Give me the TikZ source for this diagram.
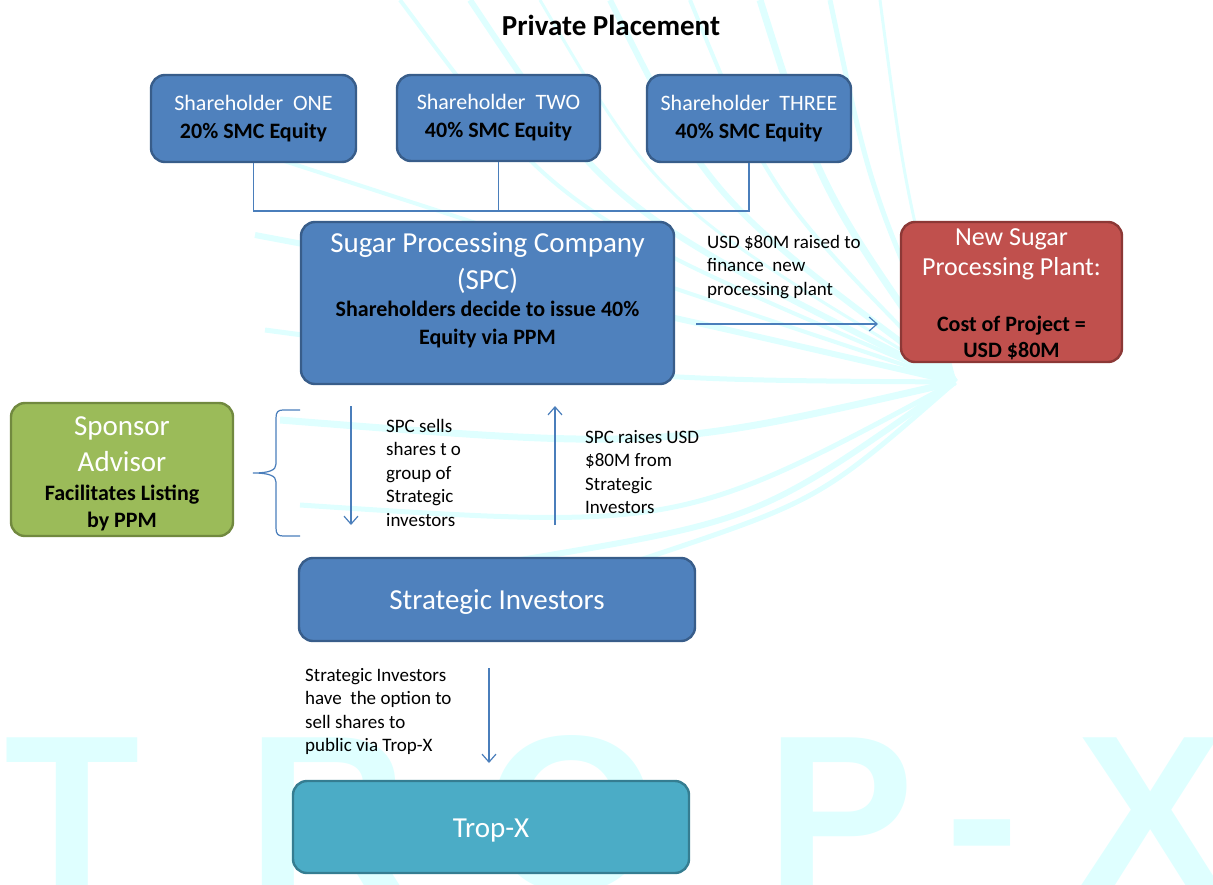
\documentclass[tikz,border=0pt]{standalone}
\usepackage{fontspec}
\setmainfont{Carlito}
\newfontfamily\markfont{Liberation Sans}
\usetikzlibrary{arrows.meta}
\definecolor{boxblue}{HTML}{4F81BD}
\definecolor{boxblueline}{HTML}{385D8A}
\definecolor{plantred}{HTML}{C0504D}
\definecolor{plantredline}{HTML}{8C3836}
\definecolor{sponsorgreen}{HTML}{9BBB59}
\definecolor{sponsorgreenline}{HTML}{71893F}
\definecolor{tropteal}{HTML}{4BACC6}
\definecolor{troptealline}{HTML}{357D91}
\definecolor{flowline}{HTML}{4A7EBB}
\definecolor{markcyan}{HTML}{DFFFFF}
\newcommand{\bigtxt}{\fontsize{29}{34}\selectfont}
\newcommand{\plainbox}{\fontsize{22}{28}\selectfont}
\newcommand{\notetxt}{\fontsize{19}{23.5}\selectfont}
\newcommand{\markletter}[3]{%
  \node[markcyan, anchor=base, font=\markfont\bfseries\fontsize{222}{222}\selectfont] (#1) at (#2,890) {#3};
}
\newcommand{\fanline}[3]{\draw[markcyan, line width=#1] (fanfocus) .. controls (#2) .. (#3);}

\begin{document}
\begin{tikzpicture}[x=1pt, y=-1pt,
  every node/.style={inner sep=0pt},
  stagebox/.style={draw, rounded corners=14pt, line width=2.4pt, align=center, text=white, font=\plainbox},
  bluebox/.style={stagebox, fill=boxblue, draw=boxblueline},
  flow/.style={flowline, line width=1.2pt},
  flowarrow/.style={flow, -{Straight Barb[length=8pt, width=14pt]}},
  note/.style={anchor=north west, align=left, font=\notetxt}]

  \useasboundingbox (0,0) rectangle (1213,884);

  \begin{scope}
    \clip (0,0) rectangle (1213,884);
    \coordinate (fanfocus) at (955,382);
    \fanline{4pt}{560,215}{400,0}
    \fanline{6pt}{610,210}{470,0}
    \fanline{3pt}{660,205}{540,0}
    \fanline{6pt}{710,200}{610,0}
    \fanline{4pt}{770,195}{690,0}
    \fanline{7pt}{820,190}{760,0}
    \fanline{5pt}{870,190}{830,0}
    \fanline{3pt}{905,190}{880,0}
    \fanline{4pt}{560,250}{250,150}
    \fanline{6pt}{600,300}{255,235}
    \fanline{5pt}{640,380}{265,330}
    \fanline{7pt}{660,450}{280,420}
    \fanline{5pt}{680,530}{300,505}
    \fanline{6pt}{760,520}{520,560}
    \fanline{5pt}{820,500}{640,560}
    \markletter{markt}{72}{T}
    \markletter{markr}{328}{R}
    \markletter{marko}{572}{O}
    \markletter{markp}{841}{P}
    \markletter{markdash}{982}{-}
    \markletter{markx}{1151}{X}
  \end{scope}

  \node[font=\bfseries\fontsize{29}{34}\selectfont] (title) at (611,25) {Private Placement};

  \node[bluebox, minimum width=205, minimum height=87] (holderone) at (253.5,118.5)
    {Shareholder~ ONE\\\textcolor{black}{\bfseries 20\% SMC Equity}};
  \node[bluebox, minimum width=203, minimum height=86] (holdertwo) at (498.5,118)
    {Shareholder~ TWO\\\textcolor{black}{\bfseries 40\% SMC Equity}};
  \node[bluebox, minimum width=204, minimum height=87] (holderthree) at (749,118.5)
    {Shareholder~ THREE\\\textcolor{black}{\bfseries 40\% SMC Equity}};

  \coordinate (joinmid) at (498.5,211);
  \draw[flow] (holderone.south) |- (joinmid) -| (holderthree.south);
  \draw[flow] (holdertwo.south) -- (joinmid);

  \node[bluebox, minimum width=373, minimum height=162] (spc) at (487.5,303) {};
  \node[anchor=north, align=center, text=white, font=\plainbox] (spctext) at (487.5,232)
    {{\bigtxt Sugar Processing Company}\\[9pt]{\bigtxt (SPC)}\\[-1pt]
     \textcolor{black}{\bfseries Shareholders decide to issue 40\%}\\\textcolor{black}{\bfseries Equity via PPM}};

  \node[stagebox, fill=plantred, draw=plantredline, minimum width=221, minimum height=140,
    font=\fontsize{26}{30}\selectfont] (plant) at (1011.5,292)
    {\rule{0pt}{21pt}New Sugar\\Processing Plant:\\[26pt]
     \textcolor{black}{\bfseries\plainbox Cost of Project =}\\[-4pt]\textcolor{black}{\bfseries\plainbox USD \$80M}};

  \node[note] (raisednote) at (707,235) {USD \$80M raised to\\finance~ new\\processing plant};
  \coordinate (spcout) at (696,324);
  \coordinate (plantin) at (878,324);
  \draw[flowarrow] (spcout) -- (plantin);

  \node[stagebox, fill=sponsorgreen, draw=sponsorgreenline, minimum width=222, minimum height=133] (sponsor) at (122,469.5)
    {{\bigtxt\rule{0pt}{27pt}Sponsor}\\[8pt]{\bigtxt Advisor}\\[1pt]
     \textcolor{black}{\bfseries Facilitates Listing}\\[-1pt]\textcolor{black}{\bfseries by PPM}};

  \coordinate (bracetop) at (300,410);
  \coordinate (bracetip) at (253,473);
  \coordinate (bracebottom) at (300,536);
  \draw[flow] (bracetop) -- (283,410) .. controls (278,410) and (276,412) .. (276,418)
    -- (276,464) .. controls (276,470) and (270,473) .. (bracetip)
    .. controls (270,473) and (276,476) .. (276,482)
    -- (276,528) .. controls (276,534) and (278,536) .. (283,536) -- (bracebottom);

  \coordinate (sellstart) at (351,406);
  \coordinate (sellend) at (351,525);
  \draw[flowarrow] (sellstart) -- (sellend);
  \node[note] (sellnote) at (386,419) {SPC sells\\shares t o\\group of\\Strategic\\investors};

  \coordinate (raisestart) at (555,525);
  \coordinate (raiseend) at (555,406);
  \draw[flowarrow] (raisestart) -- (raiseend);
  \node[note] (raisenote) at (585,430) {SPC raises USD\\\$80M from\\Strategic\\Investors};

  \node[bluebox, minimum width=396, minimum height=83, font=\bigtxt, text height=26pt, text depth=6pt] (investors) at (497,599.5) {Strategic Investors};

  \node[note] (optionnote) at (305,668) {Strategic Investors\\have~ the option to\\sell shares to\\public via Trop-X};
  \coordinate (optionstart) at (489,668);
  \coordinate (optionend) at (489,763);
  \draw[flowarrow] (optionstart) -- (optionend);

  \node[stagebox, fill=tropteal, draw=troptealline, minimum width=396, minimum height=92, font=\bigtxt, text height=26pt, text depth=6pt] (tropx) at (491,827) {Trop-X};

\end{tikzpicture}
\end{document}
